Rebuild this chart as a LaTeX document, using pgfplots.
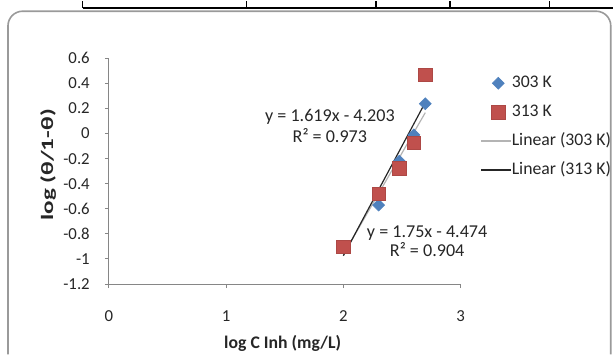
\documentclass[border=0pt]{standalone}
\usepackage{fontspec}
\setmainfont{Carlito}
\usepackage{pgfplots}
\pgfplotsset{compat=1.18}
\definecolor{xblue}{HTML}{4F81BD}
\definecolor{xred}{HTML}{C0504D}
\definecolor{axgray}{HTML}{868686}
\definecolor{txt}{HTML}{262626}
\definecolor{trlight}{HTML}{B4B4B4}
\definecolor{trdark}{HTML}{262626}
\definecolor{frame}{HTML}{9A9A9A}
\pgfplotsset{trlegend/.style={legend image code/.code={\draw[##1] (-0.15cm,0cm) -- (0.64cm,0cm);}}}
\begin{document}
\begin{tikzpicture}[x=0.75pt,y=0.75pt]
\path (0,0) rectangle (614,354);
% piece of the table above the chart
\draw[line width=1.1pt] (82.7,346.7) -- (614,346.7);
\foreach \xx in {82.7,246.7,376.3,450.7,550} \draw[line width=1.1pt] (\xx,346.7) -- (\xx,354);
% chart area frame (its bottom edge lies below the picture)
\draw[frame, line width=1.2pt, rounded corners=11pt] (8,0) -- (8,343.5) -- (611.5,343.5) -- (611.5,0);
\begin{axis}[
  at={(93,56)}, anchor=south west,
  scale only axis, width=264pt, height=169.5pt,
  xmin=0, xmax=3, ymin=-1.2, ymax=0.6,
  axis lines*=left,
  axis line style={axgray, line width=0.75pt},
  xtick={0,1,2,3},
  ytick={-1.2,-1,-0.8,-0.6,-0.4,-0.2,0,0.2,0.4,0.6},
  tick style={axgray, line width=0.75pt},
  major tick length=3pt, tick align=outside,
  ticklabel style={font=\fontsize{12.6}{14}\selectfont, text=txt},
  /pgf/number format/.cd, fixed, precision=1, assume math mode=true, /pgfplots/.cd,
  yticklabel style={anchor=east, inner sep=0pt, xshift=-11.25pt},
  xticklabel style={anchor=north, inner sep=0pt, yshift=-16.8pt},
  xlabel={log C Inh (mg/L)},
  xlabel style={overlay, font=\bfseries\fontsize{13.3}{15}\selectfont, text=txt, at={(axis description cs:0.494,-0.261)}, anchor=center},
  ylabel={\scalebox{1.45}[1]{log (θ/1-θ)}},
  ylabel style={font=\bfseries\fontsize{13}{15}\selectfont, text=txt, at={(axis description cs:-0.1733,0.528)}, anchor=center},
  legend style={overlay, at={(axis description cs:1.045,0.939)}, anchor=north west, draw=none, fill=none,
    font=\fontsize{13.3}{15}\selectfont, text=txt, row sep=9.4pt, column sep=0pt,
    nodes={inner sep=0pt, text height=9.3pt, text depth=3pt}},
  legend cell align=left,
  clip=false,
]
\addplot[only marks, mark=square*, mark size=3.2pt, mark options={rotate=45, fill=xblue, draw=xblue}]
  coordinates {(2,-0.904) (2.301,-0.57) (2.477,-0.22) (2.602,-0.01) (2.699,0.238)};
\addlegendentry{303 K}
\addplot[only marks, mark=square*, mark size=5pt, mark options={fill=xred, draw=xred!90!black}]
  coordinates {(2,-0.90) (2.301,-0.479) (2.477,-0.277) (2.602,-0.072) (2.699,0.47)};
\addlegendentry{313 K}
\addplot[no marks, color=trlight, line width=0.9pt, trlegend]
  coordinates {(2,-0.965) (2.699,0.167)};
\addlegendentry{Linear (303 K)}
\addplot[no marks, color=trdark, line width=0.9pt, trlegend]
  coordinates {(2,-0.974) (2.699,0.249)};
\addlegendentry{Linear (313 K)}
\node[font=\fontsize{13.6}{15}\selectfont, text=txt, anchor=base, inner sep=0pt] at (axis cs:1.885,0.100) {y = 1.619x - 4.203};
\node[font=\fontsize{13.6}{15}\selectfont, text=txt, anchor=base, inner sep=0pt] at (axis cs:1.885,-0.068) {R² = 0.973};
\node[font=\fontsize{13.6}{15}\selectfont, text=txt, anchor=base, inner sep=0pt] at (axis cs:2.715,-0.826) {y = 1.75x - 4.474};
\node[font=\fontsize{13.6}{15}\selectfont, text=txt, anchor=base, inner sep=0pt] at (axis cs:2.715,-0.978) {R² = 0.904};
\end{axis}
\end{tikzpicture}
\end{document}
